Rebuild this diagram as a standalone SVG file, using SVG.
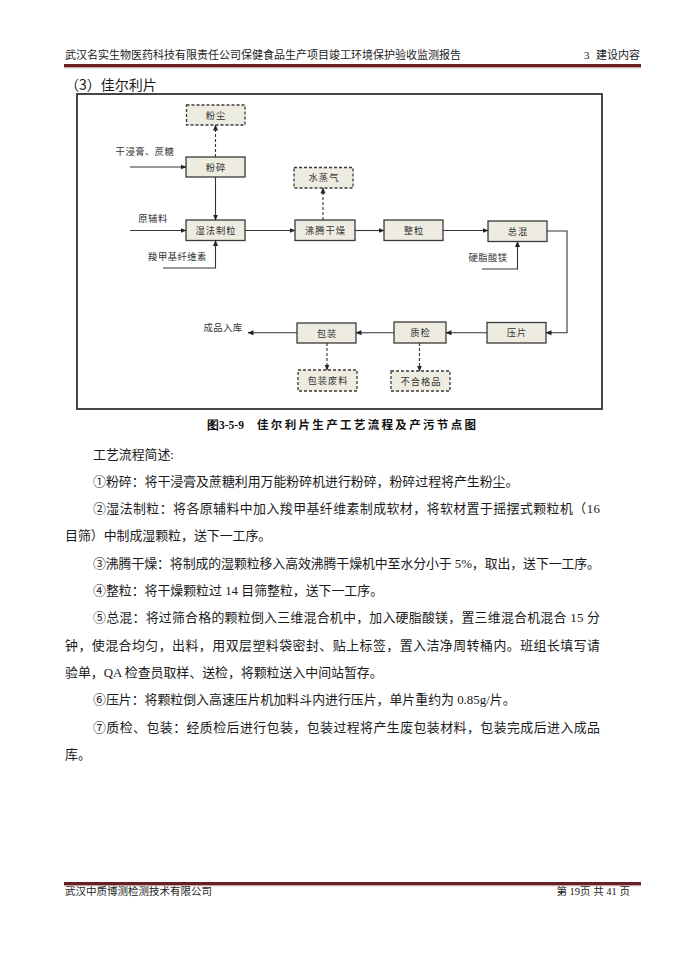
<svg xmlns="http://www.w3.org/2000/svg" width="680" height="961" viewBox="0 0 680 961">
<style>
.hd{font-family:'Liberation Serif','Noto Sans CJK SC',serif;font-size:10.5px;fill:#222}
.bd{font-family:'Liberation Serif','Noto Sans CJK SC',serif;font-size:12.9px;fill:#1a1a1a}
.box{fill:#eeece1;stroke:#3a3a3a;stroke-width:1.3}
.dbox{fill:#eeece1;stroke:#3a3a3a;stroke-width:1.3;stroke-dasharray:3 2}
.nt{font-family:'Noto Sans CJK SC',sans-serif;font-size:9.3px;fill:#333;text-anchor:middle;letter-spacing:1px}
.lb{font-family:'Noto Sans CJK SC',sans-serif;font-size:9.3px;fill:#333;text-anchor:middle;letter-spacing:0.5px}
.ln{fill:none;stroke:#333;stroke-width:1.1}
.dl{fill:none;stroke:#333;stroke-width:1.1;stroke-dasharray:3 2}
</style>
<defs>
<marker id="ah" markerWidth="6" markerHeight="6" refX="5.5" refY="3" orient="auto" markerUnits="userSpaceOnUse">
<path d="M0,0.5 L6,3 L0,5.5 z" fill="#222"/>
</marker>
</defs>
<rect width="680" height="961" fill="#fff"/>
<!-- header -->
<g id="header">
<text class="hd" x="65" y="59" style="font-size:11px">武汉名实生物医药科技有限责任公司保健食品生产项目竣工环境保护验收监测报告</text>
<text class="hd" x="584" y="59" style="font-size:11px">3</text>
<text class="hd" x="640" y="59" text-anchor="end" style="font-size:11px">建设内容</text>
<rect x="64" y="64" width="577" height="3.4" fill="#6a1f25"/>
<rect x="64" y="67.4" width="577" height="0.8" fill="#c9a3a6"/>
</g>
<text x="65" y="90" style="font-family:'Noto Sans CJK SC',sans-serif;font-size:14px;fill:#1a1a1a">（3）佳尔利片</text>
<!-- frame -->
<rect x="77" y="94" width="525" height="315" fill="none" stroke="#333" stroke-width="1.8"/>
<!-- nodes -->
<g id="fenchen"><rect class="dbox" x="186.5" y="105" width="58.5" height="20"/><text class="nt" x="216" y="118.5">粉尘</text></g>
<g id="fensui"><rect class="box" x="186" y="157" width="59" height="20"/><text class="nt" x="216" y="170.5">粉碎</text></g>
<g id="shifa"><rect class="box" x="186" y="220" width="59" height="20.5"/><text class="nt" x="216" y="233.8">湿法制粒</text></g>
<g id="shuizhengqi"><rect class="dbox" x="294" y="167.5" width="59" height="20.5"/><text class="nt" x="324" y="181">水蒸气</text></g>
<g id="feiteng"><rect class="box" x="295" y="220" width="60" height="20.5"/><text class="nt" x="325.5" y="233.8">沸腾干燥</text></g>
<g id="zhengli"><rect class="box" x="384" y="220" width="59" height="20.5"/><text class="nt" x="414" y="233.8">整粒</text></g>
<g id="zonghun"><rect class="box" x="488" y="221" width="59" height="20.5"/><text class="nt" x="518" y="234.8">总混</text></g>
<g id="yapian"><rect class="box" x="487" y="322.5" width="59" height="20.5"/><text class="nt" x="517" y="336.3">压片</text></g>
<g id="zhijian"><rect class="box" x="394" y="322" width="52" height="21"/><text class="nt" x="420.5" y="336">质检</text></g>
<g id="baozhuang"><rect class="box" x="297" y="323" width="59" height="20"/><text class="nt" x="327" y="336.5">包装</text></g>
<g id="feiliao"><rect class="dbox" x="298" y="370" width="59" height="21"/><text class="nt" x="328" y="384">包装废料</text></g>
<g id="buhege"><rect class="dbox" x="391" y="371" width="59" height="20"/><text class="nt" x="421" y="384.5">不合格品</text></g>
<!-- input labels -->
<g id="labels">
<text class="lb" x="145" y="155">干浸膏、蔗糖</text>
<text class="lb" x="153" y="221.5">原辅料</text>
<text class="lb" x="177.5" y="260">羧甲基纤维素</text>
<text class="lb" x="488" y="260.5">硬脂酸镁</text>
<text class="lb" x="223" y="330.5">成品入库</text>
</g>
<!-- connectors -->
<g id="connectors">
<path class="ln" d="M130,167 H186" marker-end="url(#ah)"/>
<path class="dl" d="M215.5,157 V125" marker-end="url(#ah)"/>
<path class="ln" d="M215.5,177 V220" marker-end="url(#ah)"/>
<path class="ln" d="M130,230.5 H186" marker-end="url(#ah)"/>
<path class="ln" d="M163,268 H215.5 V240.5" marker-end="url(#ah)"/>
<path class="ln" d="M245,230.5 H295" marker-end="url(#ah)"/>
<path class="dl" d="M323,220 V188" marker-end="url(#ah)"/>
<path class="ln" d="M355,230.5 H384" marker-end="url(#ah)"/>
<path class="ln" d="M443,230.5 H488" marker-end="url(#ah)"/>
<path class="ln" d="M482,269 H517.5 V241.5" marker-end="url(#ah)"/>
<path class="ln" d="M547,231 H567 V332.7 H546" marker-end="url(#ah)"/>
<path class="ln" d="M487,332.7 H446" marker-end="url(#ah)"/>
<path class="ln" d="M394,332.7 H356" marker-end="url(#ah)"/>
<path class="ln" d="M297,332.7 H248" marker-end="url(#ah)"/>
<path class="dl" d="M327,343 V370" marker-end="url(#ah)"/>
<path class="dl" d="M419.5,343 V371" marker-end="url(#ah)"/>
</g>
<!-- caption -->
<g id="caption" style="font-weight:bold;fill:#111">
<text x="207" y="429" style="font-family:'Liberation Serif',serif;font-size:11.5px;font-weight:bold">图3-5-9</text>
<text x="257" y="429" textLength="219" lengthAdjust="spacing" style="font-family:'Noto Sans CJK SC',sans-serif;font-size:11.5px;font-weight:bold">佳尔利片生产工艺流程及产污节点图</text>
</g>
<!-- body -->
<g id="body">
<text class="bd" x="93" y="458.5">工艺流程简述:</text>
<text class="bd" x="93" y="485.8">①粉碎：将干浸膏及蔗糖利用万能粉碎机进行粉碎，粉碎过程将产生粉尘。</text>
<text class="bd" x="93" y="513.1" textLength="507" lengthAdjust="spacing">②湿法制粒：将各原辅料中加入羧甲基纤维素制成软材，将软材置于摇摆式颗粒机（16</text>
<text class="bd" x="65" y="540.4">目筛）中制成湿颗粒，送下一工序。</text>
<text class="bd" x="93" y="567.7" textLength="507" lengthAdjust="spacing">③沸腾干燥：将制成的湿颗粒移入高效沸腾干燥机中至水分小于 5%，取出，送下一工序。</text>
<text class="bd" x="93" y="595">④整粒：将干燥颗粒过 14 目筛整粒，送下一工序。</text>
<text class="bd" x="93" y="622.3" textLength="507" lengthAdjust="spacing">⑤总混：将过筛合格的颗粒倒入三维混合机中，加入硬脂酸镁，置三维混合机混合 15 分</text>
<text class="bd" x="65" y="649.6" textLength="535" lengthAdjust="spacing">钟，使混合均匀，出料，用双层塑料袋密封、贴上标签，置入洁净周转桶内。班组长填写请</text>
<text class="bd" x="65" y="676.9">验单，QA 检查员取样、送检，将颗粒送入中间站暂存。</text>
<text class="bd" x="93" y="704.2">⑥压片：将颗粒倒入高速压片机加料斗内进行压片，单片重约为 0.85g/片。</text>
<text class="bd" x="93" y="731.5" textLength="507" lengthAdjust="spacing">⑦质检、包装：经质检后进行包装，包装过程将产生废包装材料，包装完成后进入成品</text>
<text class="bd" x="65" y="758.8">库。</text>
</g>
<!-- footer -->
<g id="footer">
<rect x="64" y="882" width="577" height="3.4" fill="#6a1f25"/>
<rect x="64" y="885.4" width="577" height="0.8" fill="#c9a3a6"/>
<text class="hd" x="65" y="895">武汉中质博测检测技术有限公司</text>
<text class="hd" x="630" y="895" text-anchor="end">第 19页  共 41 页</text>
</g>
</svg>
